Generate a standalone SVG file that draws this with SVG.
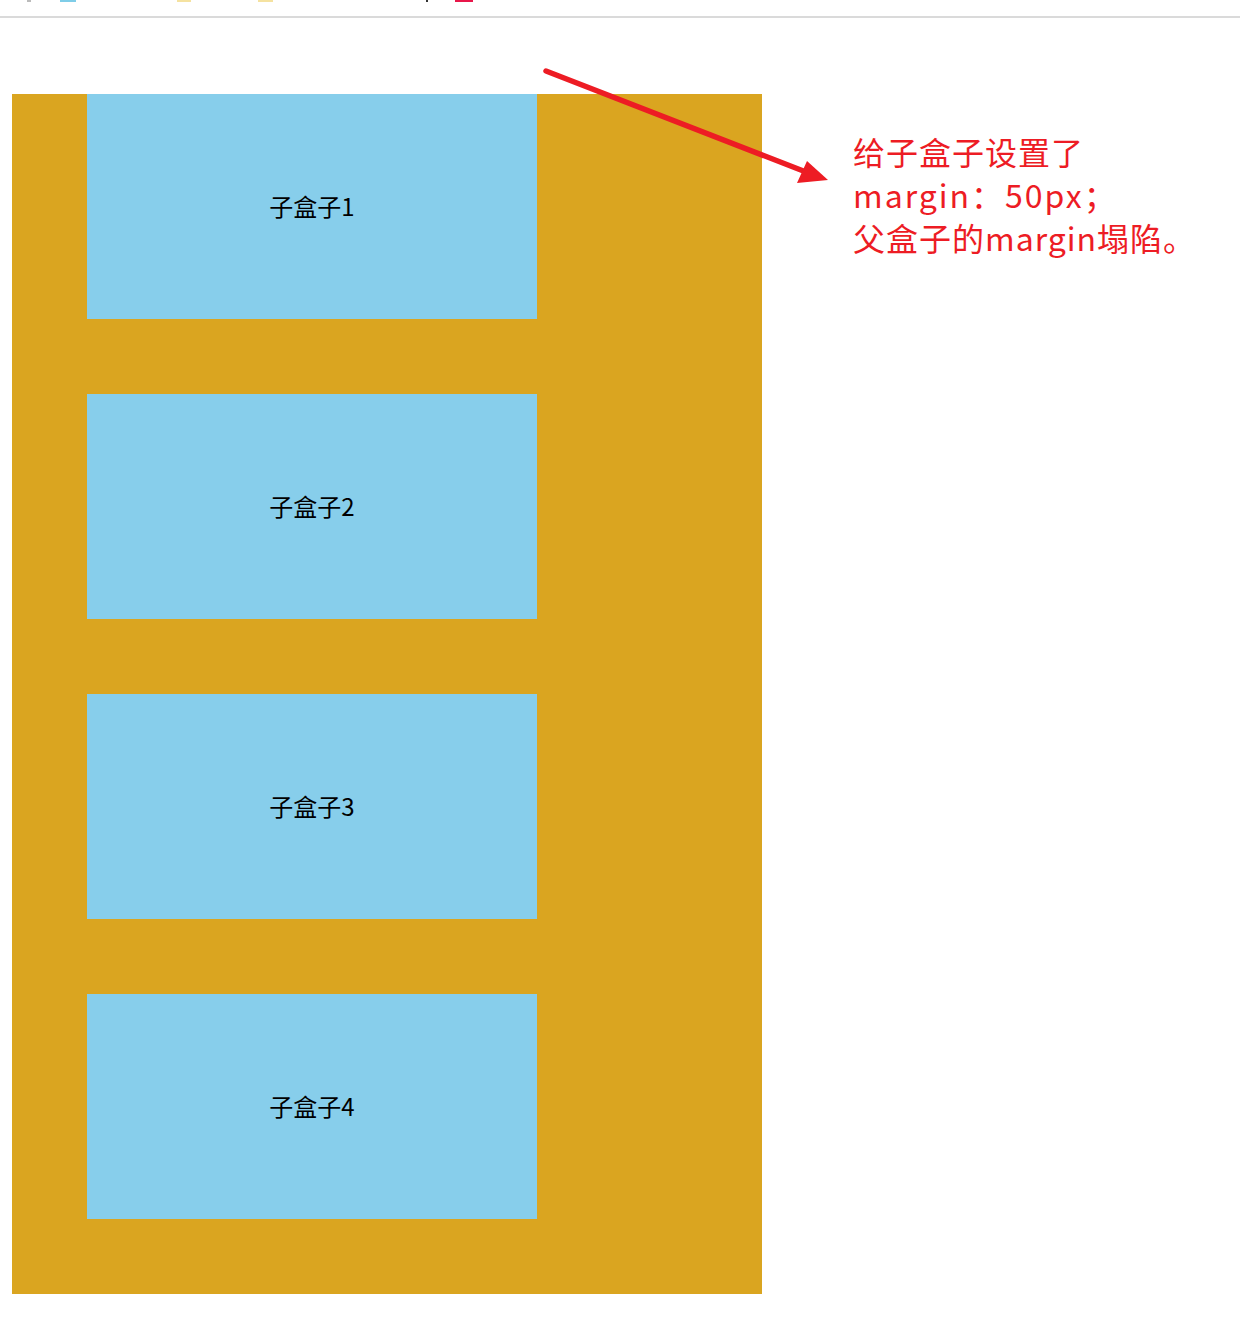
<svg xmlns="http://www.w3.org/2000/svg" width="1240" height="1344" viewBox="0 0 1240 1344">
<style>
.child{fill:#87CEEB}
.lbl{font-family:"Microsoft YaHei","Noto Sans CJK SC",sans-serif;font-size:24px;fill:#000;text-anchor:middle}
.note{font-family:"Microsoft YaHei","Noto Sans CJK SC",sans-serif;font-size:32px;fill:#ED1C24}
</style>
<rect x="0" y="0" width="1240" height="1344" fill="#fff"/>
<g id="toolbar">
<rect x="27" y="0" width="4" height="2" fill="#bbb"/>
<rect x="60" y="0" width="16" height="2" fill="#7fcde8"/>
<rect x="177" y="0" width="14" height="2" fill="#f5e2a0"/>
<rect x="258" y="0" width="15" height="2" fill="#f5e2a0"/>
<rect x="426" y="0" width="2" height="2" fill="#333"/>
<rect x="455" y="0" width="18" height="2" fill="#e8174a"/>
<rect x="0" y="16" width="1240" height="2" fill="#dadada"/>
</g>
<g id="parent">
<rect x="12" y="94" width="750" height="1200" fill="#DAA520"/>
</g>
<g id="child1"><rect class="child" x="87" y="94" width="450" height="225"/><text class="lbl" x="312" y="216">子盒子1</text></g>
<g id="child2"><rect class="child" x="87" y="394" width="450" height="225"/><text class="lbl" x="312" y="516">子盒子2</text></g>
<g id="child3"><rect class="child" x="87" y="694" width="450" height="225"/><text class="lbl" x="312" y="816">子盒子3</text></g>
<g id="child4"><rect class="child" x="87" y="994" width="450" height="225"/><text class="lbl" x="312" y="1116">子盒子4</text></g>
<g id="connectors">
<line x1="546" y1="71" x2="806" y2="172" stroke="#ED1C24" stroke-width="5.5" stroke-linecap="round"/>
<polygon points="828,180 797,183 807,161" fill="#ED1C24"/>
</g>
<g id="note">
<text class="note"><tspan x="853" y="165" letter-spacing="1">给子盒子设置了</tspan><tspan x="853" y="208" letter-spacing="2">margin：50px；</tspan><tspan x="853" y="251" letter-spacing="1">父盒子的margin塌陷。</tspan></text>
</g>
</svg>
